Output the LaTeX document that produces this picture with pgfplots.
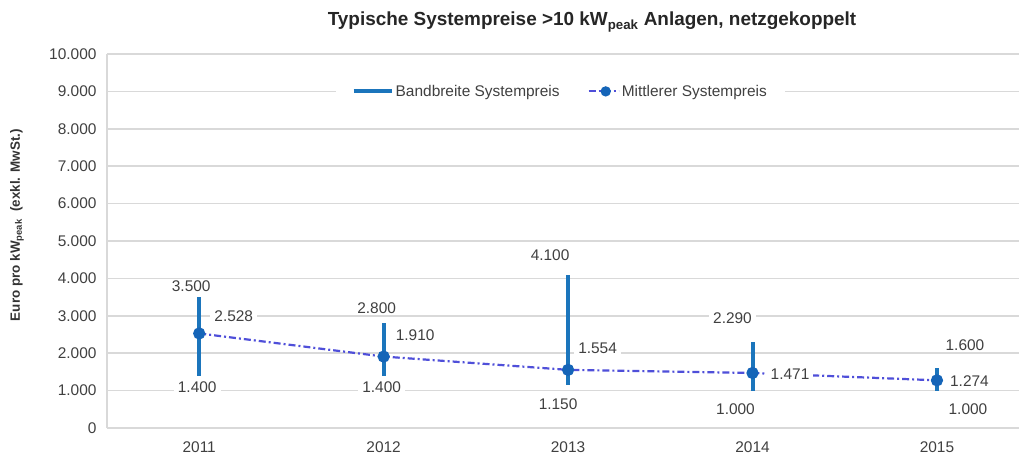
\documentclass[border=0pt]{standalone}
\usepackage{pgfplots}
\pgfplotsset{compat=1.18}
\usepackage{fontspec}
\setmainfont{Liberation Sans}
\definecolor{barblue}{HTML}{1B75BC}
\definecolor{meanline}{HTML}{4F4FD9}
\definecolor{markblue}{HTML}{1565B8}
\definecolor{txtgray}{HTML}{404040}
\definecolor{gridgray}{HTML}{D9D9D9}
\newcommand{\fs}{\fontsize{15.5}{18}\selectfont}
\tikzset{lbl/.style={font=\fs, text=txtgray, fill=white, inner xsep=4bp, inner ysep=1.5bp}}
\pgfplotsset{
  barlegend/.style={legend image code/.code={\draw[##1] (0bp,0bp) -- (38bp,0bp);}},
  meanlegend/.style={legend image code/.code={\draw[##1, mark repeat=2, mark phase=2, mark size=4bp]
     plot coordinates {(0bp,0bp)(17bp,0bp)(30bp,0bp)};}},
}
\begin{document}
\begin{tikzpicture}[x=1bp,y=1bp]
\useasboundingbox (0,0) rectangle (1019,455);
\begin{axis}[
  at={(107bp,27bp)}, anchor=south west,
  scale only axis, width=912bp, height=374bp,
  xmin=-0.5, xmax=4.445, ymin=0, ymax=10000,
  axis x line*=bottom, axis y line*=left,
  axis line style={draw=gridgray, line width=1.5bp},
  xtick={0,1,2,3,4}, xticklabels={2011,2012,2013,2014,2015},
  ytick={0,1000,2000,3000,4000,5000,6000,7000,8000,9000,10000},
  yticklabels={0,1.000,2.000,3.000,4.000,5.000,6.000,7.000,8.000,9.000,10.000},
  scaled y ticks=false,
  ymajorgrids, grid style={draw=gridgray, line width=1.5bp},
  major tick length=0pt,
  tick label style={font=\fs, text=txtgray},
  yticklabel style={xshift=-7bp},
  xticklabel style={yshift=-10bp},
  clip=false,
  unbounded coords=jump,
  legend style={at={(0.497,0.9)}, anchor=center, draw=none, fill=white,
    font=\fs, text=txtgray, inner xsep=16bp, inner ysep=3bp,
    legend columns=2, /tikz/every even column/.append style={column sep=26bp}},
  legend cell align=left,
]
\addplot[barblue, line width=4bp, barlegend]
  coordinates {(0,1400)(0,3500) (0,nan) (1,1400)(1,2800) (1,nan)
               (2,1150)(2,4100) (2,nan) (3,1000)(3,2290) (3,nan)
               (4,1000)(4,1600)};
\addlegendentry{Bandbreite Systempreis}
\addplot[meanline, line width=2.2bp, dash pattern=on 7bp off 3bp on 2bp off 3bp,
  mark=*, mark size=5bp, mark options={solid, fill=markblue, draw=markblue}, meanlegend]
  coordinates {(0,2528)(1,1910)(2,1554)(3,1471)(4,1274)};
\addlegendentry{Mittlerer Systempreis}
% max labels
\node[lbl, xshift=-8bp, yshift=11bp] at (axis cs:0,3500) {3.500};
\node[lbl, xshift=-7bp, yshift=15bp] at (axis cs:1,2800) {2.800};
\node[lbl, xshift=-18bp, yshift=19bp] at (axis cs:2,4100) {4.100};
\node[lbl, xshift=-20bp, yshift=24bp] at (axis cs:3,2290) {2.290};
\node[lbl, xshift=28bp, yshift=23bp] at (axis cs:4,1600) {1.600};
% min labels
\node[lbl, xshift=-2bp, yshift=-12bp] at (axis cs:0,1400) {1.400};
\node[lbl, xshift=-2bp, yshift=-12bp] at (axis cs:1,1400) {1.400};
\node[lbl, xshift=-10bp, yshift=-19bp] at (axis cs:2,1150) {1.150};
\node[lbl, xshift=-17bp, yshift=-19bp] at (axis cs:3,1000) {1.000};
\node[lbl, xshift=31bp, yshift=-19bp] at (axis cs:4,1000) {1.000};
% mean labels
\node[lbl, anchor=west, xshift=11bp, yshift=17bp] at (axis cs:0,2528) {2.528};
\node[lbl, anchor=west, xshift=8bp, yshift=21bp] at (axis cs:1,1910) {1.910};
\node[lbl, anchor=west, xshift=6bp, yshift=22bp] at (axis cs:2,1554) {1.554};
\node[lbl, anchor=west, xshift=14bp, yshift=-1bp] at (axis cs:3,1471) {1.471};
\node[lbl, anchor=west, xshift=9bp, yshift=-1bp] at (axis cs:4,1274) {1.274};
\end{axis}
\node[font=\fontsize{19}{22}\selectfont\bfseries, text=black!85] at (592,433)
  {Typische Systempreise >10 kW\textsubscript{peak} Anlagen, netzgekoppelt};
\node[font=\fontsize{13.5}{16}\selectfont\bfseries, text=black!80, rotate=90] at (17,230)
  {Euro pro kW\textsubscript{peak}\ \ (exkl. MwSt.)};
\end{tikzpicture}
\end{document}
